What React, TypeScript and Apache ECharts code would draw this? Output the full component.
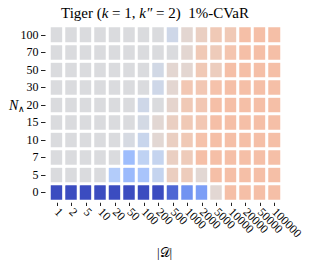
import React, { useEffect, useRef } from "react";
import * as echarts from "echarts";

const xLabels = ["1", "2", "5", "10", "20", "50", "100", "200", "500", "1000", "2000", "5000", "10000", "20000", "50000", "100000"];
const yLabels = ["0", "5", "7", "10", "15", "20", "30", "50", "70", "100"];

// relative score per cell (rows from N=0 upward), mapped on a coolwarm scale [-1, 1]
const row0 = [-1, -1, -1, -1, -1, -1, -1, -1, -0.88, -0.66, -0.6, 0.05, 0.28, 0.28, 0.28, 0.28];
const row5 = [-0.02, -0.02, -0.02, -0.02, -0.28, -0.42, -0.34, -0.16, 0.15, 0.17, 0.05, 0.28, 0.28, 0.28, 0.28, 0.28];
const row7 = [-0.02, -0.02, -0.02, -0.02, -0.02, -0.4, -0.2, -0.16, 0.14, 0.18, 0.28, 0.28, 0.28, 0.28, 0.28, 0.28];
const row10 = [-0.02, -0.02, -0.02, -0.02, -0.02, -0.05, -0.14, 0.05, 0.14, 0.2, 0.26, 0.28, 0.28, 0.28, 0.28, 0.28];
const row15 = [-0.02, -0.02, -0.02, -0.02, -0.02, -0.02, -0.07, 0.05, 0.14, 0.2, 0.22, 0.28, 0.28, 0.28, 0.28, 0.28];
const row20 = [-0.02, -0.02, -0.02, -0.02, -0.02, -0.02, -0.1, -0.02, 0.08, 0.2, 0.22, 0.28, 0.28, 0.28, 0.28, 0.28];
const row30 = [-0.02, -0.02, -0.02, -0.02, -0.02, -0.02, -0.02, -0.1, 0.06, 0.22, 0.22, 0.26, 0.28, 0.28, 0.28, 0.28];
const row50 = [-0.02, -0.02, -0.02, -0.02, -0.02, -0.02, -0.02, -0.08, 0.06, 0.06, 0.2, 0.16, 0.28, 0.28, 0.28, 0.28];
const row70 = [-0.02, -0.02, -0.02, -0.02, -0.02, -0.02, -0.02, -0.02, -0.02, 0.06, 0.2, 0.18, 0.24, 0.28, 0.28, 0.28];
const row100 = [-0.02, -0.02, -0.02, -0.02, -0.02, -0.02, -0.02, -0.02, -0.1, 0.06, 0.14, 0.2, 0.2, 0.28, 0.28, 0.28];

const rows = [row0, row5, row7, row10, row15, row20, row30, row50, row70, row100];

const coolwarm = ["#3b4cc0", "#6282ea", "#8db0fe", "#b8d0f9", "#dddcdc", "#f5c4ad", "#f49a7b", "#de604d", "#b40426"];

const FONT = "'Liberation Serif', 'Times New Roman', serif";

export default function App() {
  const ref = useRef<HTMLDivElement>(null);
  useEffect(() => {
    if (!ref.current) return;
    const chart = echarts.init(ref.current, null, { renderer: "svg" });
    const data: number[][] = [];
    rows.forEach((r, yi) => r.forEach((v, xi) => data.push([xi, yi, v])));
    chart.setOption({
      animation: false,
      backgroundColor: "#ffffff",
      title: {
        text: "{r|Tiger (}{i|k}{r| = 1, }{i|k″}{r| = 2)  1%-CVaR}",
        left: "center",
        top: 0,
        padding: [5, 0, 5, 21],
        textStyle: {
          fontWeight: "normal",
          rich: {
            r: { fontFamily: FONT, fontSize: 15, color: "#000", fontWeight: "normal" },
            i: { fontFamily: FONT, fontSize: 15, color: "#000", fontStyle: "italic", fontWeight: "normal" },
          },
        },
      },
      grid: { left: 49.5, right: 28.5, top: 26, bottom: 69 },
      xAxis: {
        type: "category",
        data: xLabels,
        axisLine: { show: false },
        axisTick: { show: true, alignWithLabel: true, length: 5, lineStyle: { color: "#222", width: 1 } },
        axisLabel: { rotate: -45, margin: 9, fontFamily: FONT, fontSize: 12, color: "#000", interval: 0 },
        splitLine: { show: false },
      },
      yAxis: {
        type: "category",
        data: yLabels,
        offset: 4,
        axisLine: { show: false },
        axisTick: { show: true, alignWithLabel: true, length: 4.5, lineStyle: { color: "#222", width: 1 } },
        axisLabel: { margin: 7, fontFamily: FONT, fontSize: 12, color: "#000", interval: 0 },
        splitLine: { show: false },
      },
      visualMap: {
        type: "continuous",
        min: -1,
        max: 1,
        show: false,
        inRange: { color: coolwarm },
      },
      graphic: [
        {
          type: "text",
          left: 9,
          top: 98,
          style: {
            text: "{i|N}{s|∧}",
            rich: {
              i: { fontFamily: FONT, fontSize: 14, fontStyle: "italic", fill: "#000", color: "#000" },
              s: { fontFamily: FONT, fontSize: 9, fill: "#000", color: "#000", padding: [8, 0, 0, 0] },
            },
          },
        },
        {
          type: "text",
          left: 157,
          top: 246,
          style: { text: "|𝒟|", fontFamily: FONT, fontSize: 13, fill: "#000" },
        },
      ],
      series: [
        {
          type: "heatmap",
          data,
          itemStyle: { borderColor: "#ffffff", borderWidth: 3 },
          emphasis: { disabled: true },
        },
      ],
    });
    return () => chart.dispose();
  }, []);
  return <div ref={ref} style={{ position: "fixed", left: 0, top: 0, width: 310, height: 270 }} />;
}
